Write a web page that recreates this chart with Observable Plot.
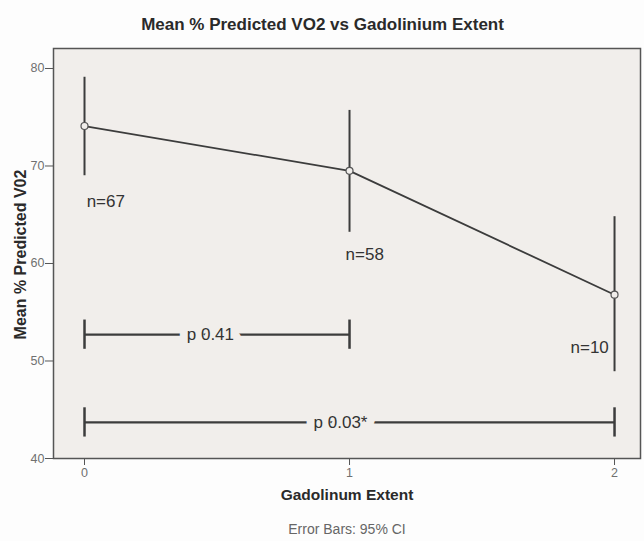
<!DOCTYPE html>
<html><head><meta charset="utf-8">
<script src="https://cdn.jsdelivr.net/npm/d3@7"></script>
<script src="https://cdn.jsdelivr.net/npm/@observablehq/plot@0.6"></script>
<style>body{margin:0;background:#fdfdfd}</style>
</head><body><div id="chart"></div>
<script>
// Data
const groups = [0, 1, 2];
const means = [74.1, 69.5, 56.8];
const ciLow = [69.0, 63.2, 48.9];
const ciHigh = [79.1, 75.7, 64.8];
const nLabels = ["n=67", "n=58", "n=10"];
const nLabelX = [0.008, 0.985, 1.834];
const nLabelY = [66.4, 60.9, 51.4];
const bracketFrom = [0, 0];
const bracketTo = [1, 2];
const bracketY = [52.7, 43.7];
const pLabels = ["p 0.41", "p 0.03*"];
const pLabelX = [0.475, 0.966];
const yTicks = [40, 50, 60, 70, 80];
const xTicks = [0, 1, 2];

const pts = groups.map((g, i) => ({g, mean: means[i], lo: ciLow[i], hi: ciHigh[i]}));
const nl = nLabels.map((t, i) => ({t, x: nLabelX[i], y: nLabelY[i]}));
const br = pLabels.map((t, i) => ({t, x1: bracketFrom[i], x2: bracketTo[i], y: bracketY[i], lx: pLabelX[i]}));
const caps = br.flatMap(b => [{x: b.x1, y: b.y}, {x: b.x2, y: b.y}]);
const capHalf = 1.5;

const bg = "#f1eeeb";
const ink = "#3c3c3c";

const chart = Plot.plot({
  width: 644,
  height: 541,
  marginTop: 48,
  marginBottom: 83,
  marginLeft: 53,
  marginRight: 4,
  style: {fontFamily: "'Liberation Sans', Arial, sans-serif", background: "#fdfdfd", color: "#555"},
  x: {domain: [-0.117, 2.098]},
  y: {domain: [40, 82.05]},
  marks: [
    Plot.frame({fill: bg}),
    Plot.axisY({ticks: yTicks, tickSize: 8, tickPadding: 1, fontSize: 12.5, label: null, stroke: "#555", fill: "#707070"}),
    Plot.axisX({ticks: xTicks, tickFormat: d3.format("d"), tickSize: 7, tickPadding: 3, fontSize: 12.5, label: null, stroke: "#555", fill: "#707070"}),
    // error bars
    Plot.ruleX(pts, {x: "g", y1: "lo", y2: "hi", stroke: ink, strokeWidth: 2}),
    Plot.line(pts, {x: "g", y: "mean", stroke: ink, strokeWidth: 1.8}),
    Plot.dot(pts, {x: "g", y: "mean", r: 3.5, stroke: "#555", fill: bg, strokeWidth: 1.2}),
    // n labels
    Plot.text(nl, {x: "x", y: "y", text: "t", textAnchor: "start", fontSize: 17, fill: "#333"}),
    // brackets
    Plot.ruleY(br, {x1: "x1", x2: "x2", y: "y", stroke: ink, strokeWidth: 2.2}),
    Plot.ruleX(caps, {x: "x", y1: d => d.y - capHalf, y2: d => d.y + capHalf, stroke: ink, strokeWidth: 2.5}),
    Plot.text(br, {x: "lx", y: "y", text: "t", fontSize: 17, fill: "#333", stroke: bg, strokeWidth: 16, paintOrder: "stroke"}),
    Plot.frame({stroke: "#555", strokeWidth: 1.5}),
    // titles
    Plot.text(["Mean % Predicted VO2 vs Gadolinium Extent"], {frameAnchor: "top", dx: -24.5, dy: -30.5, fontSize: 17, fontWeight: "bold", fill: "#2a2a2a"}),
    Plot.text(["Mean % Predicted V02"], {frameAnchor: "left", textAnchor: "middle", rotate: -90, dx: -33, dy: 1, fontSize: 16, fontWeight: "bold", fill: "#2a2a2a"}),
    Plot.text(["Gadolinum Extent"], {frameAnchor: "bottom", dy: 41, fontSize: 15.5, fontWeight: "bold", fill: "#2a2a2a"}),
    Plot.text(["Error Bars: 95% CI"], {frameAnchor: "bottom", dy: 75, fontSize: 14, fill: "#666"})
  ]
});
document.getElementById("chart").appendChild(chart);
</script>
</body></html>
